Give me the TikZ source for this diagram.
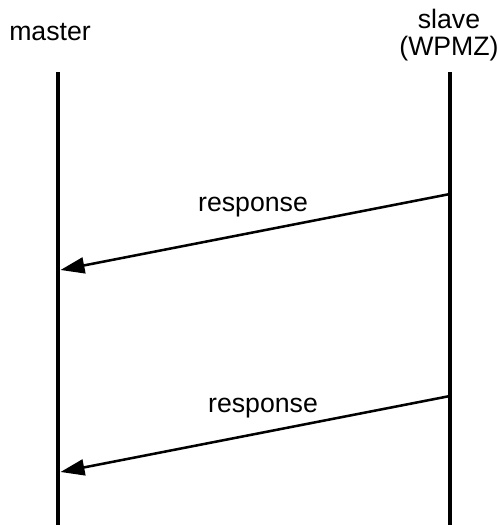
\documentclass[tikz,border=0pt]{standalone}
\usepackage{fontspec}
\setmainfont{Liberation Sans}
\usetikzlibrary{arrows.meta}
\tikzstyle{lifeline}=[line width=3pt]
\tikzstyle{msg}=[line width=1.9pt, -{Triangle[length=18pt,width=12pt]}]
\tikzstyle{actor}=[inner sep=0pt, anchor=base, font=\fontsize{20}{24}\selectfont]

\begin{document}
\begin{tikzpicture}[x=0.75pt, y=-0.75pt]
        \useasboundingbox (0, 0) rectangle (498, 525);
        \node[actor] (master) at (50, 40) {master};
        \node[actor] (slave) at (449, 28) {slave};
        \node[actor] (wpmz) at (449, 55) {(WPMZ)};
        \coordinate (mtop) at (58, 72);
        \coordinate (mbot) at (58, 525);
        \coordinate (stop) at (450, 72);
        \coordinate (sbot) at (450, 525);
        \draw[lifeline] (mtop) -- (mbot);
        \draw[lifeline] (stop) -- (sbot);
        \coordinate (s1) at (450, 194);
        \coordinate (m1) at (60.5, 270);
        \coordinate (s2) at (450, 396);
        \coordinate (m2) at (60.5, 472);
        \draw[msg] (s1) -- (m1);
        \draw[msg] (s2) -- (m2);
        \node[actor] (resp1) at (253, 211) {response};
        \node[actor] (resp2) at (263, 412) {response};
    \end{tikzpicture}
\end{document}
